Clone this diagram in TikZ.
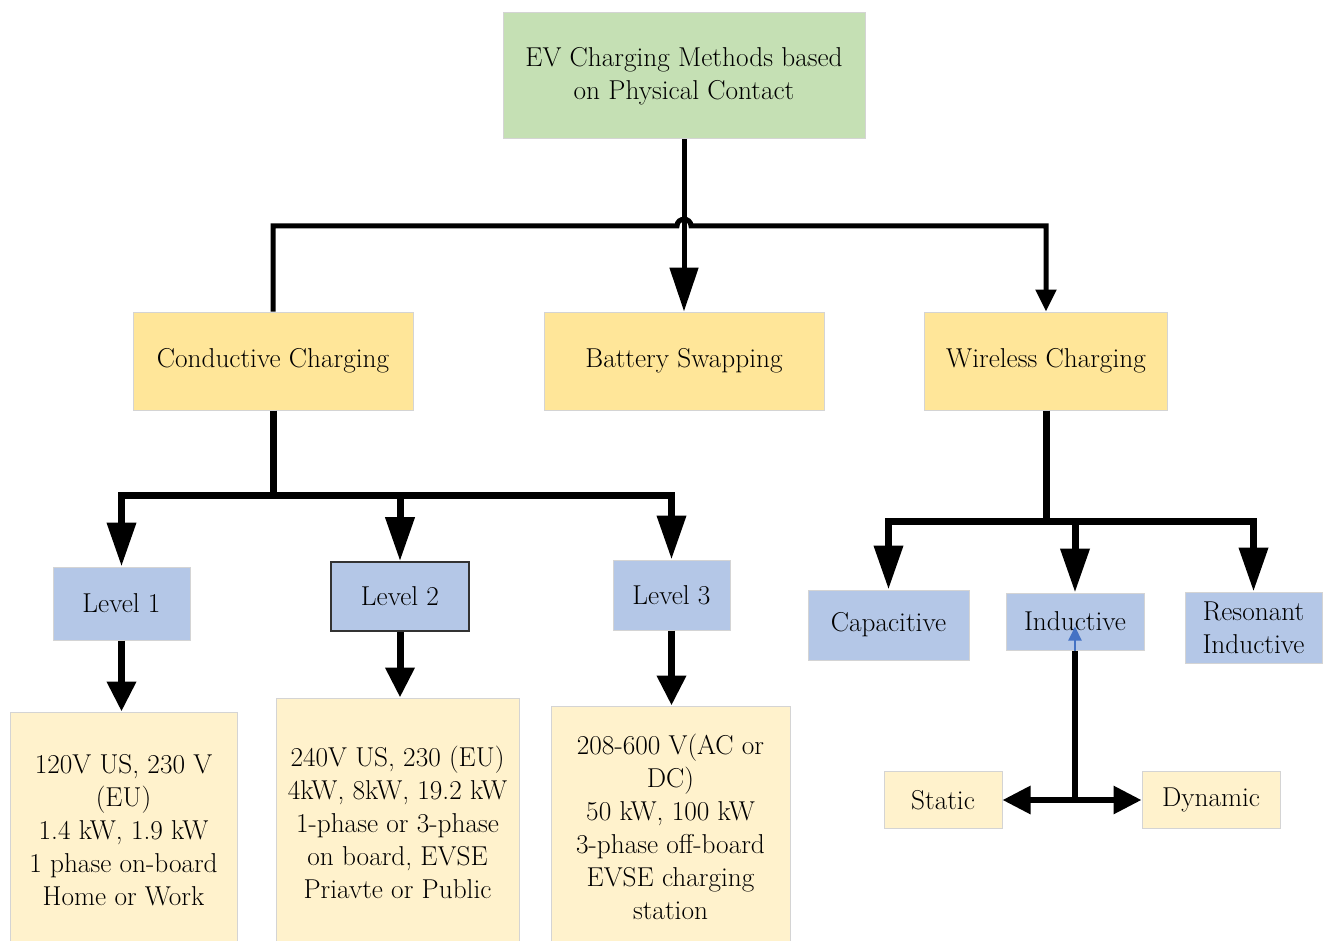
\documentclass[tikz,border=0pt]{standalone}
\usetikzlibrary{arrows.meta,calc}
\definecolor{cgreen}{HTML}{C5E0B4}
\definecolor{corange}{HTML}{FFE699}
\definecolor{cblue}{HTML}{B4C7E7}
\definecolor{cpale}{HTML}{FFF2CC}
\definecolor{cborder}{HTML}{D4D4D4}
\definecolor{ctext}{HTML}{000000}
\definecolor{carrowblue}{HTML}{4472C4}
\tikzset{
  box/.style={draw=cborder, line width=1pt, inner sep=0pt, align=center, text=ctext,
    font=\rmfamily\fontsize{27.3}{33}\selectfont},
  topbox/.style={box, fill=cgreen},
  midbox/.style={box, fill=corange},
  lvlbox/.style={box, fill=cblue},
  infobox/.style={box, fill=cpale},
  wire/.style={line width=5pt, black},
  wirebig/.style={line width=7pt, black},
  bigtip/.style={-{Triangle[length=44pt,width=28pt]}},
  smalltip/.style={-{Triangle[length=22pt,width=20pt]}},
  medtip/.style={-{Triangle[length=30pt,width=28pt]}},
}
\begin{document}
\begin{tikzpicture}[x=1pt,y=-1pt]
\useasboundingbox (0,0) rectangle (1324,941);
\clip (0,0) rectangle (1324,941);
% top
\node[topbox, minimum width=362pt, minimum height=126pt] (ev) at (684,76) {EV Charging Methods based\\on Physical Contact};
\node[midbox, minimum width=280pt, minimum height=98pt] (cond) at (273,361) {Conductive Charging};
\node[midbox, minimum width=280pt, minimum height=98pt] (bs) at (684,361) {Battery Swapping};
\node[midbox, minimum width=243pt, minimum height=98pt] (wl) at (1046,361) {Wireless Charging};
% levels
\node[lvlbox, minimum width=137pt, minimum height=73pt] (l1) at (121.5,603.5) {Level 1};
\node[lvlbox, draw=black!80, line width=1.6pt, minimum width=138pt, minimum height=69pt] (l2) at (400,596.5) {Level 2};
\node[lvlbox, minimum width=117pt, minimum height=70pt] (l3) at (671.5,595) {Level 3};
% info
\node[infobox, minimum width=227pt, minimum height=236pt] (b1) at (123.5,830) {120V US, 230 V\\(EU)\\1.4 kW, 1.9 kW\\1 phase on-board\\Home or Work};
\node[infobox, minimum width=243pt, minimum height=248pt] (b2) at (397.5,822) {240V US, 230 (EU)\\4kW, 8kW, 19.2 kW\\1-phase or 3-phase\\on board, EVSE\\Priavte or Public};
\node[infobox, minimum width=239pt, minimum height=242pt] (b3) at (670.5,827) {208-600 V(AC or\\DC)\\50 kW, 100 kW\\3-phase off-board\\EVSE charging\\station};
% wireless children
\node[lvlbox, minimum width=161pt, minimum height=70pt] (cap) at (888.5,625) {Capacitive};
\node[lvlbox, minimum width=138pt, minimum height=57pt] (ind) at (1075,621.5) {Inductive};
\node[lvlbox, minimum width=137pt, minimum height=71pt] (res) at (1253.5,627.5) {Resonant\\Inductive};
\node[infobox, minimum width=118pt, minimum height=57pt] (st) at (943,800) {Static};
\node[infobox, minimum width=138pt, minimum height=57pt] (dy) at (1211,800) {Dynamic};

% top connectors
\coordinate (hj) at (684,226);
\draw[wire, bigtip] (ev.south) -- (bs.north);
\draw[wire, smalltip, line join=miter] (cond.north) |- ($(hj)+(-7,0)$)
   .. controls ($(hj)+(-7,-9)$) and ($(hj)+(7,-9)$) .. ($(hj)+(7,0)$)
   -- (wl.north |- hj) -- (wl.north);

% conductive connectors
\coordinate (cj) at (273,495);
\draw[wirebig] (cond.south) -- (cj);
\draw[wirebig, line cap=rect] (cj -| l1.north) -- (cj -| l3.north);
\draw[wirebig, bigtip] (cj -| l1.north) -- (l1.north);
\draw[wirebig, bigtip] (cj -| l2.north) -- (l2.north);
\draw[wirebig, bigtip] (cj -| l3.north) -- (l3.north);
\draw[wirebig, medtip] (l1.south) -- (l1.south |- b1.north);
\draw[wirebig, medtip] (l2.south) -- (l2.south |- b2.north);
\draw[wirebig, medtip] (l3.south) -- (l3.south |- b3.north);

% wireless connectors
\coordinate (wj) at (1046,521);
\draw[wirebig] (wl.south) -- (wj);
\draw[wirebig, line cap=rect] (wj -| cap.north) -- (wj -| res.north);
\draw[wirebig, bigtip] (wj -| cap.north) -- (cap.north);
\draw[wirebig, bigtip] (wj -| ind.north) -- (ind.north);
\draw[wirebig, bigtip] (wj -| res.north) -- (res.north);

% inductive sub
\coordinate (sj) at (1075,800);
\draw[line width=6pt] (sj) -- (ind.south);
\draw[line width=2pt, carrowblue, -{Triangle[length=14pt,width=13pt]}] (ind.south) -- ($(ind.south)+(0,-24)$);
\draw[line width=6pt, -{Triangle[length=28pt,width=27pt]}] (sj) -- (st.east);
\draw[line width=6pt, -{Triangle[length=28pt,width=27pt]}] (sj) -- (dy.west);
\end{tikzpicture}
\end{document}
